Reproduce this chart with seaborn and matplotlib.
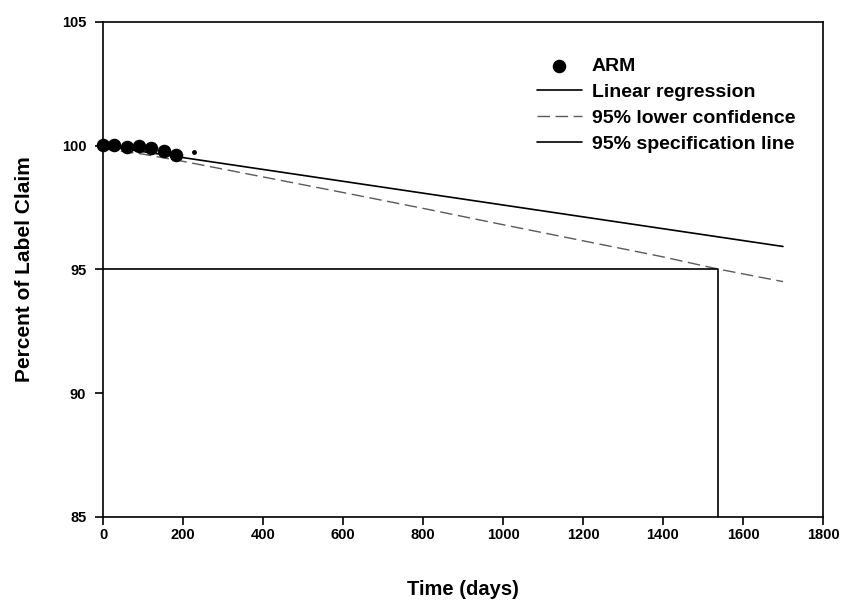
import matplotlib
matplotlib.use("Agg")
import matplotlib.pyplot as plt
import seaborn as sns
import pandas as pd

sns.set_theme(style="ticks")
plt.rcParams["font.family"] = ["Liberation Sans", "DejaVu Sans"]
plt.rcParams["text.color"] = "black"
plt.rcParams["axes.labelcolor"] = "black"

# ARM stability data (percent of label claim)
arm_days = [0, 28, 60, 90, 120, 153, 183]
arm_pct = [100.05, 100.05, 99.95, 100.0, 99.92, 99.78, 99.62]

# regression line and 95% lower confidence bound
reg_days = [0, 1700]
reg_pct = [100.0, 95.93]
lcl_days = [0, 100, 200, 400, 600, 800, 1000, 1200, 1400, 1537, 1700]
lcl_pct = [99.88, 99.66, 99.37, 98.74, 98.11, 97.47, 96.81, 96.16, 95.51, 95.02, 94.51]

# specification line (95 %) and shelf-life drop
spec_days = [0, 1537, 1537]
spec_pct = [95, 95, 85]

arm = pd.DataFrame({"days": arm_days, "pct": arm_pct})

fig = plt.figure(figsize=(8.48, 6.01), dpi=100)
ax = fig.add_axes([0.1215, 0.1398, 0.849, 0.8236])

sns.scatterplot(data=arm, x="days", y="pct", ax=ax, color="black", s=95,
                edgecolor="black", linewidth=0, label="ARM", zorder=3, clip_on=False)
ax.plot([228], [99.76], "o", color="black", markersize=2.5)
sns.lineplot(x=reg_days, y=reg_pct, ax=ax, color="black", lw=1.2,
             label="Linear regression", sort=False, estimator=None)
sns.lineplot(x=lcl_days, y=lcl_pct, ax=ax, color="#5a5a5a", lw=1.0,
             label="95% lower confidence", sort=False, estimator=None)
ax.lines[-1].set_dashes([9, 4])
sns.lineplot(x=spec_days, y=spec_pct, ax=ax, color="black", lw=1.2,
             label="95% specification line", sort=False, estimator=None)

ax.set_xlim(0, 1800)
ax.set_ylim(85, 105)
ax.set_xticks(range(0, 1801, 200))
ax.set_yticks(range(85, 106, 5))
for lab in ax.get_xticklabels() + ax.get_yticklabels():
    lab.set_fontweight("bold")
    lab.set_fontsize(10.5)
ax.tick_params(direction="out", length=6, width=1.2, colors="black")
ax.tick_params(axis="x", pad=2)
ax.tick_params(axis="y", pad=6)
for s in ax.spines.values():
    s.set_visible(True)
    s.set_color("black")
    s.set_linewidth(1.2)

ax.set_xlabel("Time (days)", fontsize=14.5, fontweight="bold", labelpad=27)
ax.set_ylabel("Percent of Label Claim", fontsize=15, fontweight="bold", labelpad=20)

leg = ax.legend(loc="upper right", bbox_to_anchor=(0.972, 0.945), frameon=False,
                borderaxespad=0, fontsize=14, handlelength=2.3, handletextpad=0.5,
                labelspacing=0.43)
for t in leg.get_texts():
    t.set_fontweight("bold")

fig.savefig("out.png", dpi=100)
